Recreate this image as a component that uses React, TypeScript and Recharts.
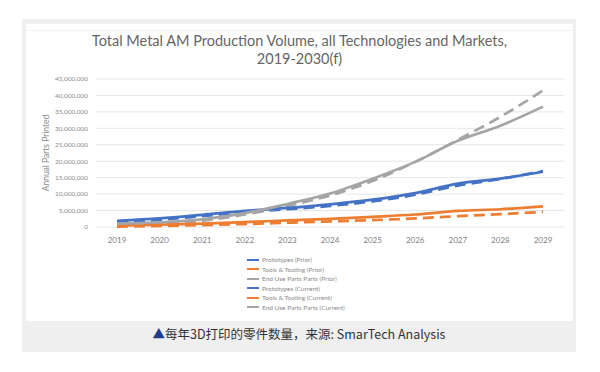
import { LineChart, Line, XAxis, YAxis, CartesianGrid } from 'recharts'

const years = ['2019', '2020', '2021', '2022', '2023', '2024', '2025', '2026', '2027', '2028', '2029']

// values in millions of parts
const protoPrior = [1.6, 2.2, 3.3, 4.5, 5.4, 6.4, 7.8, 9.8, 12.6, 14.6, 17.0]
const toolsPrior = [0.1, 0.3, 0.6, 0.9, 1.3, 1.7, 2.1, 2.6, 3.3, 3.9, 4.6]
const endUsePrior = [0.7, 1.1, 1.9, 3.8, 6.4, 9.6, 14.0, 19.8, 26.5, 33.5, 41.5]
const protoCurrent = [1.9, 2.6, 3.7, 4.9, 5.8, 6.9, 8.3, 10.3, 13.2, 14.7, 16.8]
const toolsCurrent = [0.4, 0.7, 1.0, 1.5, 2.0, 2.5, 3.1, 3.8, 4.9, 5.4, 6.3]
const endUseCurrent = [1.0, 1.4, 2.3, 4.2, 7.0, 10.2, 14.7, 19.8, 26.2, 30.8, 36.6]

const yTicks = [0, 5000000, 10000000, 15000000, 20000000, 25000000, 30000000, 35000000, 40000000, 45000000]

const BLUE = '#4472c4'
const ORANGE = '#ed7d31'
const GRAY = '#a5a5a5'

const series = [
  { key: 'protoPrior', name: 'Prototypes (Prior)', color: BLUE, dash: '11 6' },
  { key: 'toolsPrior', name: 'Tools & Tooling (Prior)', color: ORANGE, dash: '11 6' },
  { key: 'endUsePrior', name: 'End Use Parts Parts (Prior)', color: GRAY, dash: '11 6' },
  { key: 'protoCurrent', name: 'Prototypes (Current)', color: BLUE, dash: undefined },
  { key: 'toolsCurrent', name: 'Tools & Tooling (Current)', color: ORANGE, dash: undefined },
  { key: 'endUseCurrent', name: 'End Use Parts Parts (Current)', color: GRAY, dash: undefined },
]

const data = years.map((y, i) => ({
  year: y,
  protoPrior: protoPrior[i] * 1e6,
  toolsPrior: toolsPrior[i] * 1e6,
  endUsePrior: endUsePrior[i] * 1e6,
  protoCurrent: protoCurrent[i] * 1e6,
  toolsCurrent: toolsCurrent[i] * 1e6,
  endUseCurrent: endUseCurrent[i] * 1e6,
}))

const FONT = 'Lato, "Open Sans", sans-serif'

export default function App() {
  return (
    <div style={{ position: 'absolute', left: 0, top: 0, width: 600, height: 372, background: '#fff' }}>
      <div style={{ position: 'absolute', left: 22, top: 19, width: 554, height: 333, background: '#efefef' }} />
      <div style={{ position: 'absolute', left: 26, top: 24, width: 547, height: 297, background: '#fff' }}>
        <div style={{ position: 'absolute', left: 0, top: 6, width: 547, height: 1, background: '#f2f2f2' }} />
        <div style={{
          position: 'absolute', left: 0, top: 8, width: 547, textAlign: 'center',
          fontFamily: FONT, fontSize: 14.5, lineHeight: '18px', color: '#656565',
        }}>
          Total Metal AM Production Volume, all Technologies and Markets,<br />2019-2030(f)
        </div>
        <div style={{ position: 'absolute', left: 0, top: 0 }}>
          <LineChart width={547} height={297} data={data} margin={{ top: 55, right: 9, bottom: 0, left: 26 }}>
            <CartesianGrid vertical={false} stroke="#e6e6e6" />
            <XAxis
              dataKey="year"
              axisLine={false}
              tickLine={false}
              padding={{ left: 21, right: 21 }}
              tick={{ fontSize: 8, fill: '#7f7f7f', fontFamily: FONT }}
              height={94}
              dy={2}
            />
            <YAxis
              domain={[0, 45000000]}
              ticks={yTicks}
              interval={0}
              axisLine={false}
              tickLine={false}
              width={44}
              tick={{ fontSize: 6.5, fill: '#8a8a8a', fontFamily: FONT }}
              tickFormatter={(v: number) => v.toLocaleString('en-US')}
              label={{
                value: 'Annual Parts Printed', angle: -90, position: 'insideLeft', offset: -6,
                style: { fontSize: 8.5, fill: '#8a8a8a', fontFamily: FONT, textAnchor: 'middle' },
              }}
            />
            {series.map(s => (
              <Line
                key={s.key}
                type="monotone"
                dataKey={s.key}
                name={s.name}
                stroke={s.color}
                strokeWidth={2.7}
                strokeDasharray={s.dash}
                dot={false}
                isAnimationActive={false}
              />
            ))}
          </LineChart>
        </div>
        {/* legend, Excel style */}
        <div style={{
          position: 'absolute', left: 221, top: 231,
          fontFamily: FONT, fontSize: 6.5, color: '#8a8a8a', lineHeight: '9.5px',
        }}>
          {series.map(s => (
            <div key={s.key} style={{ display: 'flex', alignItems: 'center', gap: 3 }}>
              <span style={{ display: 'inline-block', width: 12, height: 2, background: s.color }} />
              {s.name}
            </div>
          ))}
        </div>
      </div>
      <div style={{
        position: 'absolute', left: 22, top: 324, width: 554, textAlign: 'center',
        fontFamily: '"Noto Sans CJK SC", "Noto Sans", sans-serif', fontSize: 12.5, color: '#333',
      }}>
        <span style={{ color: '#1f3c8f' }}>▲</span>每年3D打印的零件数量，来源: SmarTech Analysis
      </div>
    </div>
  )
}
